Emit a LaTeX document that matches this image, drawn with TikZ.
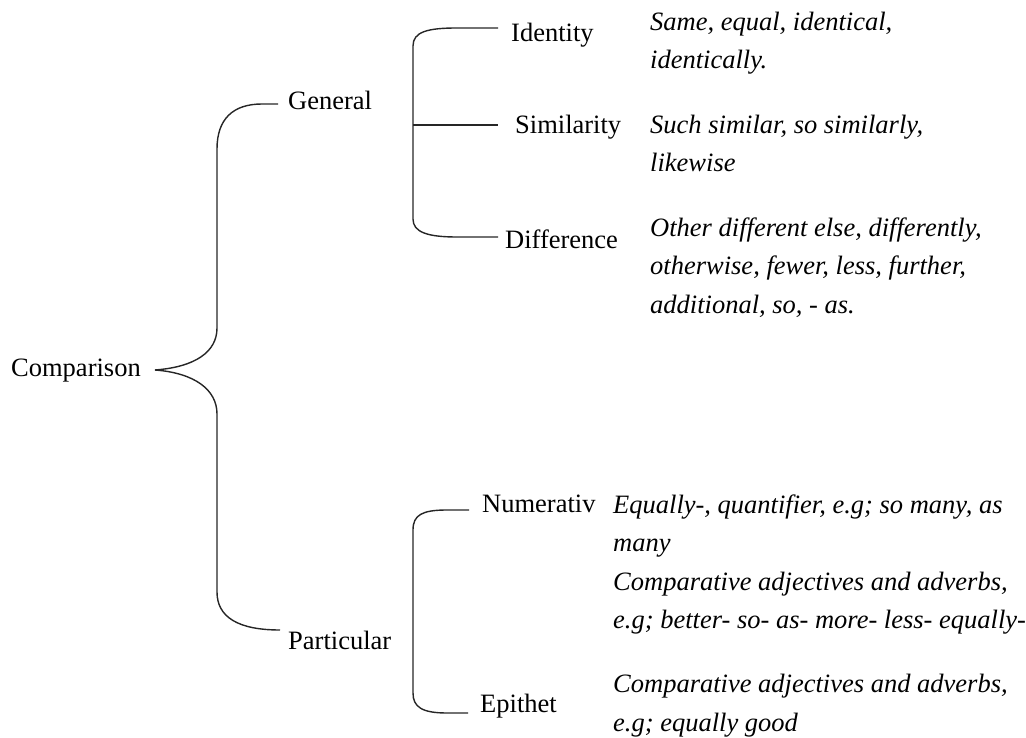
\documentclass[tikz,border=0pt]{standalone}
\usepackage{fontspec}
\setmainfont{Liberation Serif}
\begin{document}
\begin{tikzpicture}[x=1pt,y=-1pt,
  lbl/.style={anchor=west,inner sep=0pt,font=\fontsize{26.5}{32}\selectfont},
  desc/.style={anchor=base west,inner sep=0pt,align=left,font=\fontsize{26.5}{38.5}\selectfont\itshape},
  brace/.style={draw=black!85,line width=1.4pt}]
\useasboundingbox (0,0) rectangle (1026,738);
% labels
\node[lbl] (comp) at (11,371) {Comparison};
\node[lbl] (gen) at (288,100) {General};
\node[lbl] (part) at (288,640) {Particular};
\node[lbl] (iden) at (511,35) {Identity};
\node[lbl] (sim) at (515,127) {Similarity};
\node[lbl] (diff) at (505,239) {Difference};
\node[lbl] (num) at (482,504) {Numerativ};
\node[lbl] (epi) at (480,706) {Epithet};
% descriptions (base = baseline of the last line)
\node[desc] (iden-t) at (650,69) {Same, equal, identical,\\identically.};
\node[desc] (sim-t) at (650,172) {Such similar, so similarly,\\likewise};
\node[desc] (diff-t) at (650,313) {Other different else, differently,\\otherwise, fewer, less, further,\\additional, so, - as.};
\node[desc] (num-t) at (613,628.5) {Equally-, quantifier, e.g; so many, as\\many\\Comparative adjectives and adverbs,\\e.g; better- so- as- more- less- equally-};
\node[desc] (epi-t) at (613,731) {Comparative adjectives and adverbs,\\e.g; equally good};
% big brace
\coordinate (tip) at (155,370);
\coordinate (genL) at (278,104);
\coordinate (partL) at (280,630);
\draw[brace] (genL) -- (262,104) .. controls (233,104) and (217,119) .. (217,149)
  -- (217,328) .. controls (217,352) and (195,367) .. (tip);
\draw[brace] (tip) .. controls (195,373) and (217,390) .. (217,414)
  -- (217,592) .. controls (217,617) and (238,630) .. (partL);
% general brace
\coordinate (idenL) at (498,28);
\coordinate (simL) at (498,125);
\coordinate (diffL) at (498,237);
\draw[brace] (idenL) -- (457,28) .. controls (427,28) and (413,32) .. (413,46)
  -- (413,219) .. controls (413,232) and (427,237) .. (457,237) -- (diffL);
\draw[brace] (413,125) -- (simL);
% particular brace
\coordinate (numL) at (469,510);
\coordinate (epiL) at (468,713);
\draw[brace] (numL) -- (447,510) .. controls (422,510) and (413,515) .. (413,530)
  -- (413,693) .. controls (413,707) and (422,713) .. (447,713) -- (epiL);
\end{tikzpicture}
\end{document}
